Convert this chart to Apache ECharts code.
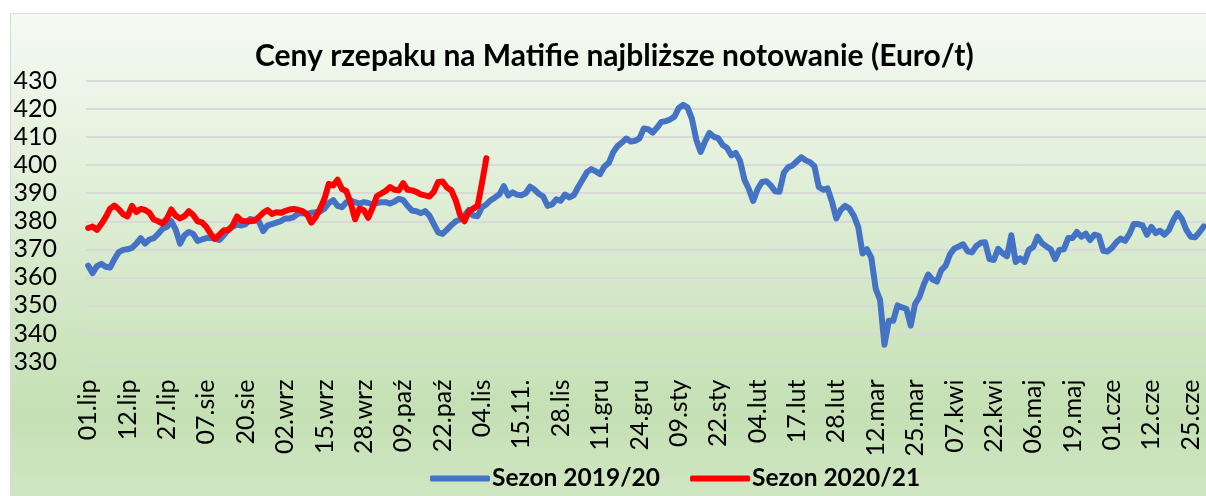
<!DOCTYPE html>
<html><head><meta charset="utf-8">
<script src="https://cdn.jsdelivr.net/npm/echarts@6/dist/echarts.min.js"></script>
<style>
html,body{margin:0;padding:0;background:#fff;width:1206px;height:496px;overflow:hidden;position:relative;}
#frame{position:absolute;left:10px;top:13px;width:1220px;height:500px;border:1px solid #d9d9d9;
background:linear-gradient(to bottom,#f5faf3 0%,#c5e0b4 80%,#d2e8c6 100%);}
#chart{position:absolute;left:0;top:0;width:1206px;height:496px;}
</style></head><body><div id="frame"></div><div id="chart"></div>
<script>
const titleText = 'Ceny rzepaku na Matifie najbliższe notowanie (Euro/t)';
const seriesNames = ['Sezon 2019/20', 'Sezon 2020/21'];
const tickLabels = ['01.lip','12.lip','27.lip','07.sie','20.sie','02.wrz','15.wrz','28.wrz','09.paź','22.paź','04.lis','15.11.','28.lis','11.gru','24.gru','09.sty','22.sty','04.lut','17.lut','28.lut','12.mar','25.mar','07.kwi','22.kwi','06.maj','19.maj','01.cze','12.cze','25.cze'];
const labelStep = 9;
const season1920 = [
364.2,361.5,364,364.8,363.8,363.5,366.5,369,369.8,370,
370.5,372,374,372,373.5,374,375.5,377.3,378,380,
377,372,375,376.2,375.5,373,373.5,374,374,373.8,
373.3,375,377,378,378.8,378.5,379,380.8,380.5,380,
376.5,378.5,379,379.5,380,381,381,381.5,382.8,382.9,
382.6,383,383.2,383.5,384.5,386.5,387.5,385.5,385,386.8,
387.4,386.8,386.3,386.8,386.5,386,386.5,386.8,386.8,386.3,
387,388,387.5,385.5,383.8,383.6,382.9,383.6,382,379,
376,375.5,377,378.6,380,380.6,382,384,382,381.8,
385,386,387.5,388.5,389.6,392.5,389.2,390.3,389.5,389.3,
390,392.3,391.3,389.8,388.8,385.5,386,387.8,387.3,389.5,
388.5,389.3,392.2,394.8,397.5,398.6,397.8,396.8,399.6,400.8,
404.6,406.8,408.1,409.5,408.4,408.7,409.5,413.1,412.8,411.6,
413.3,415.4,415.7,416.3,417.3,420.4,421.5,420.5,416.5,409,
404.7,408.5,411.5,410.1,409.6,407.2,406.2,403.5,404.4,401.5,
394.8,391.5,387.2,391.4,394,394.3,392.8,390.7,390.5,397.3,
399.3,399.9,401.4,402.8,401.7,401,399.6,392.2,391.2,391.7,
387,381,384,385.5,384.5,382,378,368.5,370,367,
356,352,336,344.5,344.5,350,349.3,348.8,342.8,350.5,
353,357.5,361,359.2,358.5,362.6,364.2,368.3,370.3,371,
371.8,369.3,368.9,371.2,372.3,372.5,366.5,366.2,370.2,368.6,
367.5,375,365.5,366.8,365.5,369.8,370.8,374.5,372.2,371,
370,366.5,369.8,370,374,374,376.2,374.5,375.6,373.3,
375.2,374.8,369.5,369.2,370.5,372.5,373.8,373,375.5,379,
379,378.5,375.2,378,375.8,376.6,375.2,376.8,380.3,382.9,
380.8,376.9,374.5,374.3,376.1,378.2
];
const season2021 = [
377.6,378.1,376.9,379,381.5,384.5,385.6,384.3,382.5,381.7,
385.5,383.3,384.4,384,383,380.6,380,379.2,381,384.2,
382,381,381.8,383.6,382.2,380,379.6,378,375.5,373.7,
375.2,376.8,376.8,378.5,381.7,380.2,380,380,380.2,381.5,
383,384,382.6,383.2,383,383.6,384.2,384.4,384.1,383.6,
382.5,379.5,381.5,384.5,388,393.3,392.8,394.8,391.5,390.8,
386.5,380.7,384.5,384,381.2,384.8,389,389.9,390.8,392.2,
391.2,391,393.6,391.2,391,390.5,389.6,389.2,388.8,390.5,
394,394.2,392,391,387.5,382.3,380,383.5,384.5,385.5,
393.5,402.5
];
const yMin = 330, yMax = 430, yStep = 10;

const categories = season1920.map((v, i) => String(i));
const font = 'Lato, "Open Sans", sans-serif';

const chart = echarts.init(document.getElementById('chart'), null, {renderer: 'canvas'});
chart.setOption({
  animation: false,
  backgroundColor: 'transparent',
  textStyle: {fontFamily: font},
  title: {
    text: titleText, left: 255, top: 41, padding: 0,
    textStyle: {fontFamily: font, fontSize: 30, fontWeight: 'bold', color: '#000'}
  },
  legend: {
    data: seriesNames, left: 425, top: 461, itemGap: 30, itemWidth: 60, itemHeight: 6,
    icon: 'roundRect',
    textStyle: {fontFamily: font, fontSize: 24.5, fontWeight: 'bold', color: '#000', padding: [0,0,0,-3]}
  },
  grid: {left: 86, right: 0, top: 81, bottom: 134.5},
  xAxis: {
    type: 'category', data: categories, boundaryGap: true,
    axisLine: {show: false}, axisTick: {show: false},
    axisLabel: {
      interval: labelStep - 1, rotate: 90, margin: 18, fontSize: 25, color: '#000', fontFamily: font,
      formatter: (v, i) => tickLabels[Math.round(i / labelStep)] || ''
    }
  },
  yAxis: {
    type: 'value', min: yMin, max: yMax, interval: yStep,
    axisLine: {show: false}, axisTick: {show: false},
    axisLabel: {fontSize: 25, color: '#000', margin: 29, fontFamily: font},
    splitLine: {lineStyle: {color: '#d9d9d9', width: 2}}
  },
  series: [
    {name: seriesNames[0], type: 'line', data: season1920, symbol: 'none', showSymbol: false,
     lineStyle: {color: '#4472c4', width: 6, cap: 'round', join: 'round'}, itemStyle: {color: '#4472c4'}},
    {name: seriesNames[1], type: 'line', data: season2021, symbol: 'none', showSymbol: false,
     lineStyle: {color: '#ff0000', width: 6, cap: 'round', join: 'round'}, itemStyle: {color: '#ff0000'}}
  ]
});
</script></body></html>
